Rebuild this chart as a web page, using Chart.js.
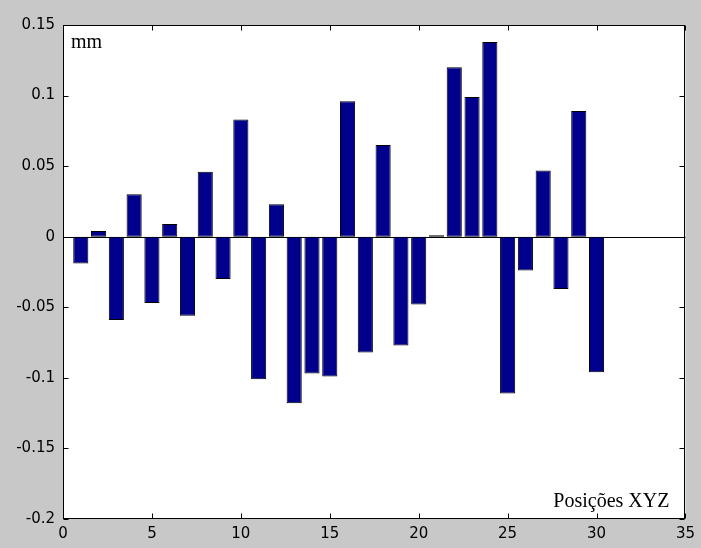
<!DOCTYPE html>
<html>
<head>
<meta charset="utf-8">
<script src="https://cdn.jsdelivr.net/npm/chart.js@4/dist/chart.umd.min.js"></script>
<style>
  html, body { margin: 0; padding: 0; background: #c8c8c8; }
  canvas { display: block; }
</style>
</head>
<body>
<canvas id="barChart" width="701" height="548"></canvas>
<script>
// positions along the XYZ path and measured deviation (mm)
const positions = [1, 2, 3, 4, 5, 6, 7, 8, 9, 10, 11, 12, 13, 14, 15,
  16, 17, 18, 19, 20, 21, 22, 23, 24, 25, 26, 27, 28, 29, 30];
const deviations = [-0.019, 0.004, -0.059, 0.030, -0.047, 0.009, -0.056, 0.046, -0.030, 0.083,
  -0.101, 0.023, -0.118, -0.097, -0.099, 0.096, -0.082, 0.065, -0.077, -0.048,
  0.001, 0.120, 0.099, 0.138, -0.111, -0.024, 0.047, -0.037, 0.089, -0.096];

const xTicks = [0, 5, 10, 15, 20, 25, 30, 35];
const xTickLabels = ['0', '5', '10', '15', '20', '25', '30', '35'];
const yTicks = [-0.2, -0.15, -0.1, -0.05, 0, 0.05, 0.1, 0.15];
const yTickLabels = ['-0.2', '-0.15', '-0.1', '-0.05', '0', '0.05', '0.1', '0.15'];

const unitLabel = 'mm';
const axisNote = 'Posições XYZ';

// white plot area, zero baseline, box frame with inward ticks, and the two notes
const matlabAxes = {
  id: 'matlabAxes',
  beforeDraw(chart) {
    const { ctx, chartArea: a } = chart;
    ctx.save();
    ctx.fillStyle = '#ffffff';
    ctx.fillRect(a.left, a.top, a.right - a.left, a.bottom - a.top);
    ctx.restore();
  },
  beforeDatasetsDraw(chart) {
    const { ctx, chartArea: a, scales } = chart;
    const y0 = Math.round(scales.y.getPixelForValue(0)) + 0.5;
    ctx.save();
    ctx.strokeStyle = '#000000';
    ctx.lineWidth = 1;
    ctx.beginPath();
    ctx.moveTo(a.left, y0);
    ctx.lineTo(a.right, y0);
    ctx.stroke();
    ctx.restore();
  },
  afterDatasetsDraw(chart) {
    const { ctx, chartArea: a, scales } = chart;
    const L = Math.round(a.left) + 0.5, R = Math.round(a.right) - 0.5;
    const T = Math.round(a.top) + 0.5, B = Math.round(a.bottom) - 0.5;
    const len = 5;
    ctx.save();
    ctx.strokeStyle = '#000000';
    ctx.lineWidth = 1;
    ctx.strokeRect(L, T, R - L, B - T);
    ctx.beginPath();
    xTicks.forEach(v => {
      const px = Math.round(scales.x.getPixelForValue(v)) + 0.5;
      ctx.moveTo(px, B); ctx.lineTo(px, B - len);
      ctx.moveTo(px, T); ctx.lineTo(px, T + len);
    });
    yTicks.forEach(v => {
      const py = Math.round(scales.y.getPixelForValue(v)) + 0.5;
      ctx.moveTo(L, py); ctx.lineTo(L + len, py);
      ctx.moveTo(R, py); ctx.lineTo(R - len, py);
    });
    ctx.stroke();

    ctx.fillStyle = '#000000';
    ctx.font = '20px "Liberation Serif", "Times New Roman", serif';
    ctx.textBaseline = 'alphabetic';
    ctx.textAlign = 'left';
    ctx.fillText(unitLabel, a.left + 8, a.top + 23);
    ctx.textAlign = 'right';
    ctx.fillText(axisNote, a.right - 16, a.bottom - 12);
    ctx.restore();
  }
};

new Chart(document.getElementById('barChart'), {
  type: 'bar',
  data: {
    datasets: [{
      data: positions.map((p, i) => ({ x: p, y: deviations[i] })),
      backgroundColor: '#00008c',
      borderColor: '#000000',
      borderWidth: 1,
      borderSkipped: false,
      barPercentage: 0.85,
      categoryPercentage: 1
    }]
  },
  options: {
    responsive: false,
    animation: false,
    layout: { padding: { top: 25, right: 12, bottom: 0, left: 0 } },
    plugins: { legend: { display: false }, tooltip: { enabled: false } },
    scales: {
      x: {
        type: 'linear',
        min: 0,
        max: 35,
        offset: false,
        afterBuildTicks: s => { s.ticks = xTicks.map(v => ({ value: v })); },
        afterFit: s => { s.height = 29; },
        ticks: {
          autoSkip: false,
          maxRotation: 0,
          padding: 6,
          color: '#000000',
          font: { family: '"DejaVu Sans", sans-serif', size: 15 },
          callback: (v, i) => xTickLabels[i]
        },
        grid: { display: false, drawTicks: false },
        border: { display: false }
      },
      y: {
        min: -0.2,
        max: 0.15,
        afterBuildTicks: s => { s.ticks = yTicks.map(v => ({ value: v })); },
        afterFit: s => { s.width = 63; },
        ticks: {
          autoSkip: false,
          padding: 8,
          color: '#000000',
          font: { family: '"DejaVu Sans", sans-serif', size: 15 },
          callback: (v, i) => yTickLabels[i]
        },
        grid: { display: false, drawTicks: false },
        border: { display: false }
      }
    }
  },
  plugins: [matlabAxes]
});
</script>
</body>
</html>
